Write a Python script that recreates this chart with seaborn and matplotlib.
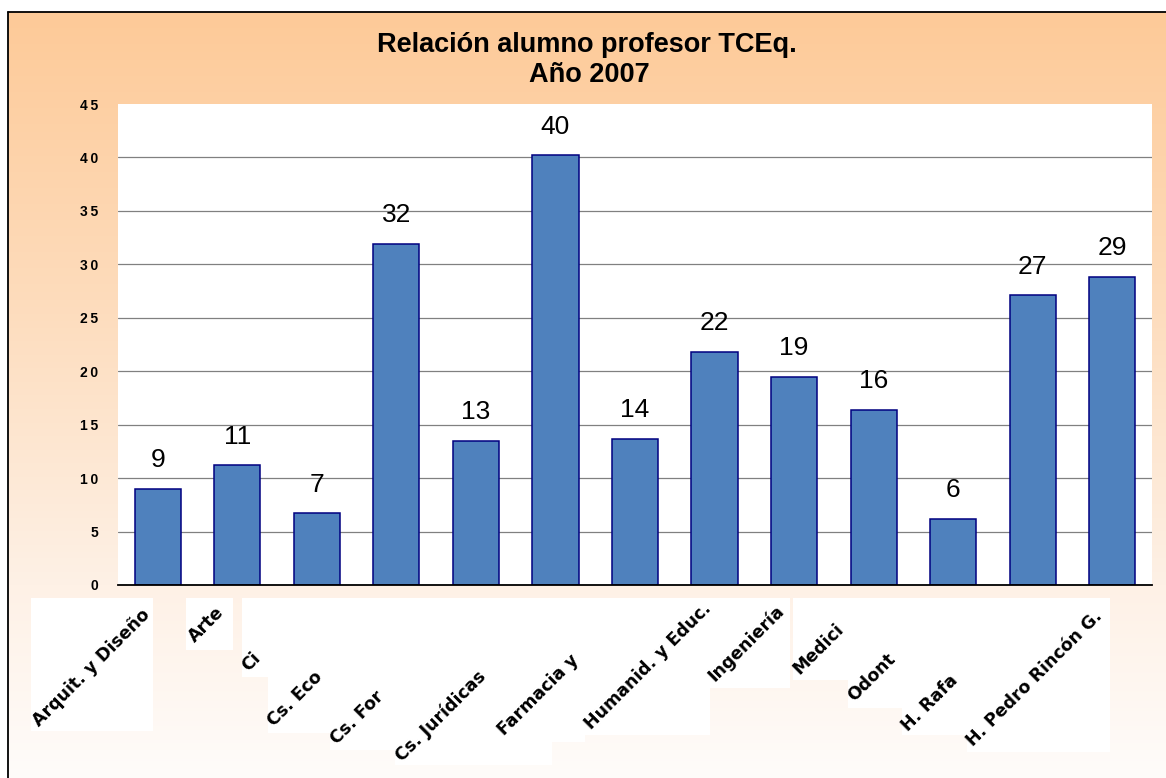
import matplotlib.pyplot as plt
import numpy as np
import seaborn as sns
from matplotlib.colors import to_rgb
from matplotlib.patches import Rectangle

# Data
categories = ['Arquit. y Diseño', 'Arte', 'Ci', 'Cs. Eco', 'Cs. For',
              'Cs. Jurídicas ', 'Farmacia y ', 'Humanid. y Educ.',
              'Ingeniería', 'Medici', 'Odont', 'H. Rafa',
              'H. Pedro Rincón G.']
values = [9.0, 11.2, 6.7, 31.9, 13.5, 40.2, 13.7, 21.8, 19.5, 16.4, 6.2,
          27.1, 28.8]
value_labels = ['9', '11', '7', '32', '13', '40', '14', '22', '19', '16', '6',
                '27', '29']
y_ticks = [0, 5, 10, 15, 20, 25, 30, 35, 40, 45]

# where each (clipped) category label starts, in pixels of the 1166x778 image
label_start_px = [(39, 727), (195, 643), (248, 672), (274, 727), (337, 745),
                  (402, 762), (504, 736), (591, 730), (715, 682), (799, 675),
                  (854, 702), (908, 732), (973, 747)]
# white boxes the labels sit in: (left, right, bottom), top at 598
label_boxes = [(31, 153, 731), (186, 233, 650), (242, 314, 677),
               (268, 330, 733), (330, 396, 750), (395, 552, 765),
               (498, 585, 742), (585, 710, 735), (710, 790, 688),
               (793, 870, 680), (848, 902, 708), (902, 967, 735),
               (967, 1110, 752)]

W, H = 1166, 778
sns.set_style('white')
plt.rcParams['font.family'] = ['Liberation Sans', 'DejaVu Sans']
plt.rcParams['text.color'] = 'black'
plt.rcParams['ytick.color'] = 'black'
plt.rcParams['xtick.color'] = 'black'

fig = plt.figure(figsize=(W / 100, H / 100), dpi=100)

# orange gradient background inside the frame
bg = fig.add_axes([8 / W, 0, 1 - 8 / W, (H - 12) / H], zorder=0)
stops_y = [12, 300, 585, 778]
stops_c = [to_rgb('#fdca98'), to_rgb('#fddcbc'), to_rgb('#fef1e6'),
           to_rgb('#fffcfa')]
rows = np.arange(12, H)
grad = np.stack([np.interp(rows, stops_y, [c[k] for c in stops_c])
                 for k in range(3)], axis=-1)[:, None, :]
bg.imshow(grad, aspect='auto', extent=[8, W, H, 12], interpolation='bilinear')
for x0, x1, yb in label_boxes:
  bg.add_patch(Rectangle((x0, 598), x1 - x0, yb - 598, facecolor='white',
                         edgecolor='none'))
bg.set_xlim(8, W)
bg.set_ylim(H, 12)
bg.axis('off')
fig.add_artist(plt.Line2D([8 / W, 8 / W], [0, 1 - 12 / H], color='black',
                          lw=1.3))
fig.add_artist(plt.Line2D([8 / W, 1], [1 - 12 / H, 1 - 12 / H], color='black',
                          lw=1.3))

# main chart
ax = fig.add_axes([118 / W, (H - 585) / H, (1152 - 118) / W, (585 - 104) / H],
                  zorder=1)
ax.set_facecolor('white')
sns.barplot(x=categories, y=values, color='#4f81bd', saturation=1,
            edgecolor='#000080', linewidth=1.1, width=0.58, ax=ax)
ax.bar_label(ax.containers[0], labels=value_labels, padding=12, fontsize=19,
             color='black')

ax.set_ylim(0, 45)
ax.set_xlim(-0.5, len(categories) - 0.5)
ax.set_yticks(y_ticks)
ax.set_yticklabels(['\u2009'.join(str(t)) for t in y_ticks],
                   fontsize=10, fontweight='bold')
ax.tick_params(axis='y', length=0, pad=14, labelcolor='black')
ax.set_xticks([])
ax.yaxis.grid(True, color='#808080', lw=0.9)
ax.get_ygridlines()[-1].set_visible(False)
ax.set_axisbelow(True)
for side in ['left', 'right', 'top']:
  ax.spines[side].set_visible(False)
ax.spines['bottom'].set_color('black')
ax.spines['bottom'].set_linewidth(1.3)
ax.set_xlabel('')
ax.set_ylabel('')

for text, (px, py) in zip(categories, label_start_px):
  fig.text(px / W, 1 - py / H, text, rotation=45, rotation_mode='anchor',
           ha='left', va='baseline', fontsize=12.5, fontweight='bold',
           family='DejaVu Sans', color='black', zorder=3)

fig.text(587 / W, 1 - 52 / H, 'Relación alumno profesor TCEq.', ha='center',
         va='baseline', fontsize=19.5, fontweight='bold', color='black')
fig.text(589 / W, 1 - 82 / H, 'Año 2007', ha='center', va='baseline',
         fontsize=19.5, fontweight='bold', color='black')

fig.savefig('out.png', dpi=100)
